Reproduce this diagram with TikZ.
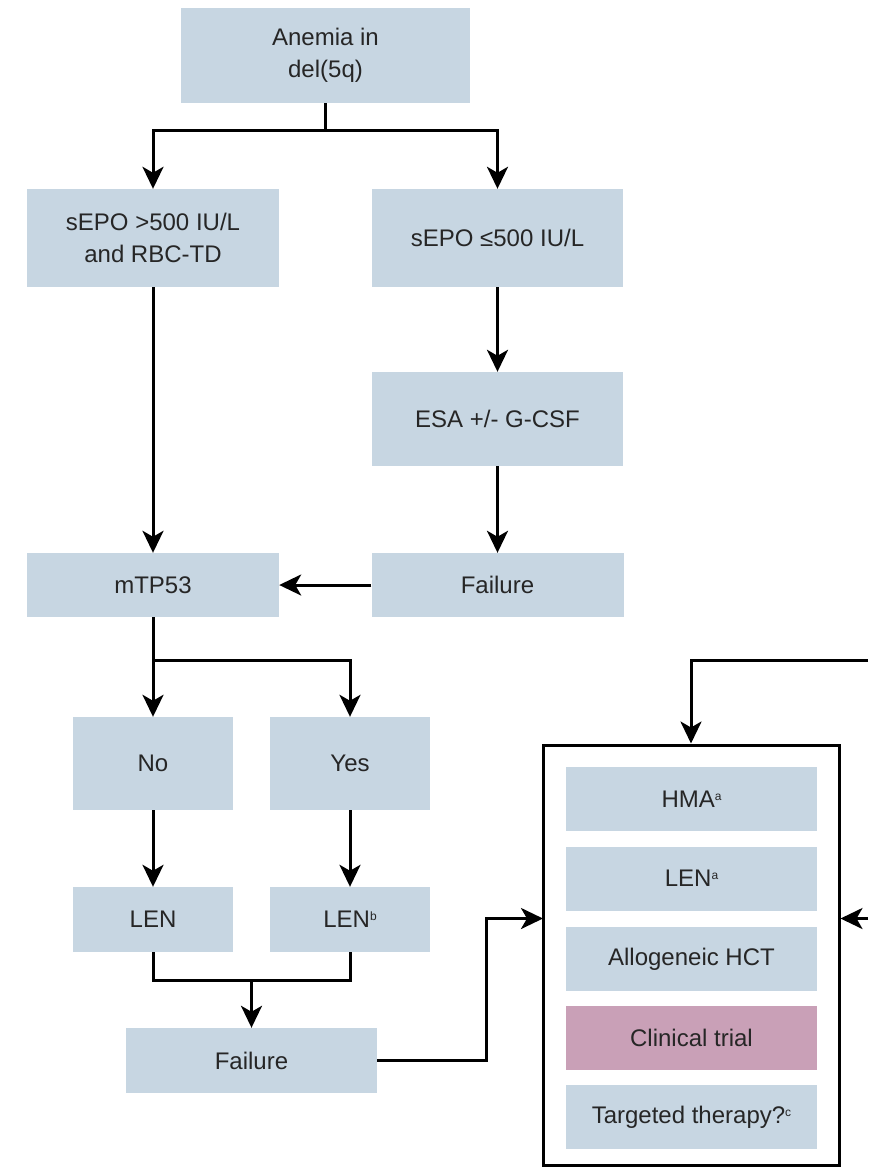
\documentclass[tikz,border=0pt]{standalone}
\usepackage{fontspec}
\setmainfont{Liberation Sans}
\usetikzlibrary{arrows.meta}

\definecolor{boxblue}{RGB}{199,214,226}
\definecolor{boxpink}{RGB}{201,160,183}
\newcommand{\smallsup}[1]{\raisebox{0.55ex}{\fontsize{12}{12}\selectfont #1}}

\begin{document}
\begin{tikzpicture}[x=1pt, y=-1pt, >={Stealth[length=22pt,width=21pt,inset=6pt]},
    stepbox/.style={fill=boxblue, text=black!85, align=center, inner sep=0pt,
        font=\fontsize{24}{32}\selectfont},
    trialbox/.style={stepbox, fill=boxpink},
    link/.style={line width=3pt}]
        \useasboundingbox (0,0) rectangle (876,1168);
        % outer panel of options
        \node[draw, line width=3pt, minimum width=296pt, minimum height=420pt] (panel) at (691,955) {};
        % left-hand flow
        \node[stepbox, minimum width=289pt, minimum height=95pt] (anemia) at (325.5,55.5) {Anemia in\\del(5q)};
        \node[stepbox, minimum width=252pt, minimum height=98pt] (sepohi) at (153,238) {sEPO >500 IU/L\\and RBC-TD};
        \node[stepbox, minimum width=251pt, minimum height=98pt] (sepolo) at (497.5,238) {sEPO ≤500 IU/L};
        \node[stepbox, minimum width=251pt, minimum height=94pt] (esa) at (497.5,419) {ESA +/- G-CSF};
        \node[stepbox, minimum width=252pt, minimum height=64pt] (failesa) at (497.5,585) {Failure};
        \node[stepbox, minimum width=252pt, minimum height=64pt] (mtp) at (153,585) {mTP53};
        \node[stepbox, minimum width=160pt, minimum height=93pt] (no) at (153,763.5) {No};
        \node[stepbox, minimum width=160pt, minimum height=93pt] (yes) at (350,763.5) {Yes};
        \node[stepbox, minimum width=160pt, minimum height=65pt] (len) at (153,919.5) {LEN};
        \node[stepbox, minimum width=160pt, minimum height=65pt] (lenb) at (350,919.5) {LEN\smallsup{b}};
        \node[stepbox, minimum width=251pt, minimum height=65pt] (faillen) at (251.5,1060.5) {Failure};
        % options inside the panel
        \node[stepbox, minimum width=251pt, minimum height=64pt] (hma) at (691.5,799) {HMA\smallsup{a}};
        \node[stepbox, minimum width=251pt, minimum height=64pt] (lena) at (691.5,878.5) {LEN\smallsup{a}};
        \node[stepbox, minimum width=251pt, minimum height=64pt] (allo) at (691.5,959) {Allogeneic HCT};
        \node[trialbox, minimum width=251pt, minimum height=64pt] (trial) at (691.5,1038) {Clinical trial};
        \node[stepbox, minimum width=251pt, minimum height=64pt] (target) at (691.5,1117) {Targeted therapy?\smallsup{c}};
        % junction points
        \coordinate (splitsepo) at (325.5,130);
        \coordinate (splitmtp) at (153,660);
        \coordinate (mergelen) at (251.5,980);
        \coordinate (panelin) at (543,918.5);
        \coordinate (fromtop) at (868,660);
        \coordinate (fromside) at (868,918.5);
        % connectors
        \draw[link] (anemia.south) -- (splitsepo);
        \draw[link,->] (splitsepo) -| (sepohi.north);
        \draw[link,->] (splitsepo) -| (sepolo.north);
        \draw[link,->] (sepohi) -- (mtp);
        \draw[link,->] (sepolo) -- (esa);
        \draw[link,->] (esa) -- (failesa);
        \draw[link,->] (failesa) -- (mtp);
        \draw[link] (mtp.south) -- (splitmtp);
        \draw[link,->] (splitmtp) -| (no.north);
        \draw[link,->] (splitmtp) -| (yes.north);
        \draw[link,->] (no) -- (len);
        \draw[link,->] (yes) -- (lenb);
        \draw[link] (len.south) |- (mergelen) -| (lenb.south);
        \draw[link,->] (mergelen) -- (faillen.north);
        \draw[link,->] (faillen.east) -- ++(109,0) |- (panelin);
        \draw[link,->] (fromtop) -| (panel.north);
        \draw[link,->] (fromside) -- (panel.east |- fromside);
    \end{tikzpicture}
\end{document}
